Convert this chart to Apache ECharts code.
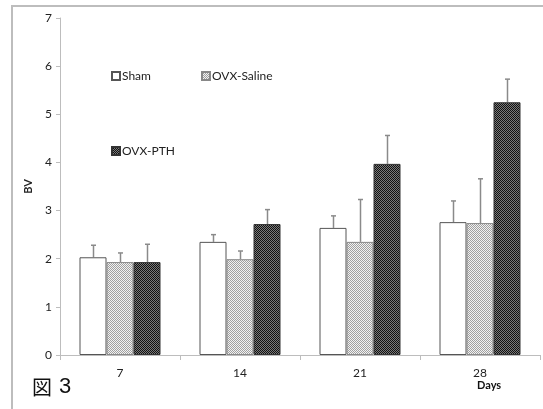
<!DOCTYPE html>
<html>
<head>
<meta charset="utf-8">
<script src="https://cdn.jsdelivr.net/npm/echarts@6/dist/echarts.min.js"></script>
<style>
html,body{margin:0;padding:0;background:#fff;overflow:hidden;width:543px;height:409px;}
#chart{position:absolute;left:0;top:0;width:543px;height:409px;}
</style>
</head>
<body>
<div id="chart"></div>
<script>
// ---- data ----
const categories = ['7', '14', '21', '28'];
const seriesNames = ['Sham', 'OVX-Saline', 'OVX-PTH'];
const shamValues = [2.03, 2.35, 2.64, 2.76];
const salineValues = [1.93, 1.99, 2.35, 2.74];
const pthValues = [1.93, 2.72, 3.97, 5.25];
const shamErrTop = [2.28, 2.50, 2.89, 3.20];
const salineErrTop = [2.12, 2.16, 3.23, 3.66];
const pthErrTop = [2.30, 3.02, 4.56, 5.73];
const yTicks = [0, 1, 2, 3, 4, 5, 6, 7];

function makePattern(a, b) {
  const c = document.createElement('canvas');
  c.width = 2; c.height = 2;
  const ctx = c.getContext('2d');
  ctx.fillStyle = a; ctx.fillRect(0, 0, 2, 2);
  ctx.fillStyle = b; ctx.fillRect(0, 0, 1, 1); ctx.fillRect(1, 1, 1, 1);
  return { image: c, repeat: 'repeat' };
}
const salinePat = makePattern('#f2f2f2', '#a0a0a0');
const pthPat = makePattern('#7a7a7a', '#111111');

const BAR_W = 27;
const chart = echarts.init(document.getElementById('chart'), null, { renderer: 'canvas' });

function errSeries(idx, tops) {
  return {
    type: 'custom',
    silent: true,
    z: 1,
    data: tops.map((v, i) => [i, v]),
    renderItem: function (params, api) {
      const c = api.value(0);
      const top = api.coord([c, api.value(1)]);
      const offset = (idx - 1) * BAR_W;
      const x = Math.round(top[0] + offset) + 0.5;
      const vals = [shamValues, salineValues, pthValues][idx];
      const base = api.coord([c, vals[c]]);
      return {
        type: 'group',
        children: [
          { type: 'line', shape: { x1: x, y1: top[1], x2: x, y2: base[1] }, style: { stroke: '#8a8a8a', lineWidth: 1.5 } },
          { type: 'line', shape: { x1: x - 2.5, y1: top[1], x2: x + 2.5, y2: top[1] }, style: { stroke: '#8a8a8a', lineWidth: 1.5 } }
        ]
      };
    }
  };
}

const legendBase = {
  orient: 'horizontal',
  itemWidth: 8,
  itemHeight: 8,
  itemGap: 10,
  icon: 'rect',
  textStyle: { fontFamily: 'Lato', fontSize: 12, color: '#222', padding: [0, 0, 0, -3] },
  selectedMode: false
};

chart.setOption({
  animation: false,
  backgroundColor: '#ffffff',
  grid: { left: 60, right: 3, top: 18, bottom: 54, containLabel: false },
  legend: [
    Object.assign({}, legendBase, { data: ['Sham'], left: 106, top: 65 }),
    Object.assign({}, legendBase, { data: ['OVX-Saline'], left: 196, top: 65 }),
    Object.assign({}, legendBase, { data: ['OVX-PTH'], left: 106, top: 140 })
  ],
  xAxis: {
    type: 'category',
    data: categories,
    axisLine: { lineStyle: { color: '#bdbdbd', width: 1 } },
    axisTick: { show: true, alignWithLabel: false, length: 5, lineStyle: { color: '#bdbdbd' } },
    axisLabel: { fontFamily: 'Lato', fontSize: 12, color: '#222', margin: 12 },
    splitLine: { show: false }
  },
  yAxis: {
    type: 'value',
    min: yTicks[0],
    max: yTicks[yTicks.length - 1],
    interval: 1,
    name: 'BV',
    nameLocation: 'middle',
    nameGap: 19,
    nameRotate: 90,
    nameTextStyle: { fontFamily: 'Lato', fontSize: 11, fontWeight: 'bold', color: '#222' },
    axisLine: { show: true, lineStyle: { color: '#bdbdbd', width: 1 } },
    axisTick: { show: true, length: 4, lineStyle: { color: '#bdbdbd' } },
    axisLabel: { fontFamily: 'Lato', fontSize: 12, color: '#222', margin: 8 },
    splitLine: { show: false }
  },
  series: [
    { name: seriesNames[0], type: 'bar', data: shamValues, barWidth: BAR_W, barGap: '0%', z: 2,
      itemStyle: { color: '#ffffff', borderColor: '#555', borderWidth: 1 } },
    { name: seriesNames[1], type: 'bar', data: salineValues, barWidth: BAR_W, barGap: '0%', z: 2,
      itemStyle: { color: salinePat, borderColor: '#888', borderWidth: 1 } },
    { name: seriesNames[2], type: 'bar', data: pthValues, barWidth: BAR_W, barGap: '0%', z: 2,
      itemStyle: { color: pthPat, borderColor: '#333', borderWidth: 1 } },
    errSeries(0, shamErrTop),
    errSeries(1, salineErrTop),
    errSeries(2, pthErrTop)
  ],
  graphic: [
    { type: 'polyline', silent: true, shape: { points: [[12, 409], [12, 6], [543, 6]] }, style: { stroke: '#bdbdbd', lineWidth: 2, fill: null } },
    { type: 'text', left: 477, top: 380, style: { text: 'Days', font: 'bold 11px Lato', fill: '#111' } },
    { type: 'text', left: 32, top: 377, style: { text: '図', font: '20px "Noto Sans CJK JP"', fill: '#111' } },
    { type: 'text', left: 59, top: 376, style: { text: '3', font: '22px "Liberation Sans"', fill: '#111' } }
  ]
});
</script>
</body>
</html>
